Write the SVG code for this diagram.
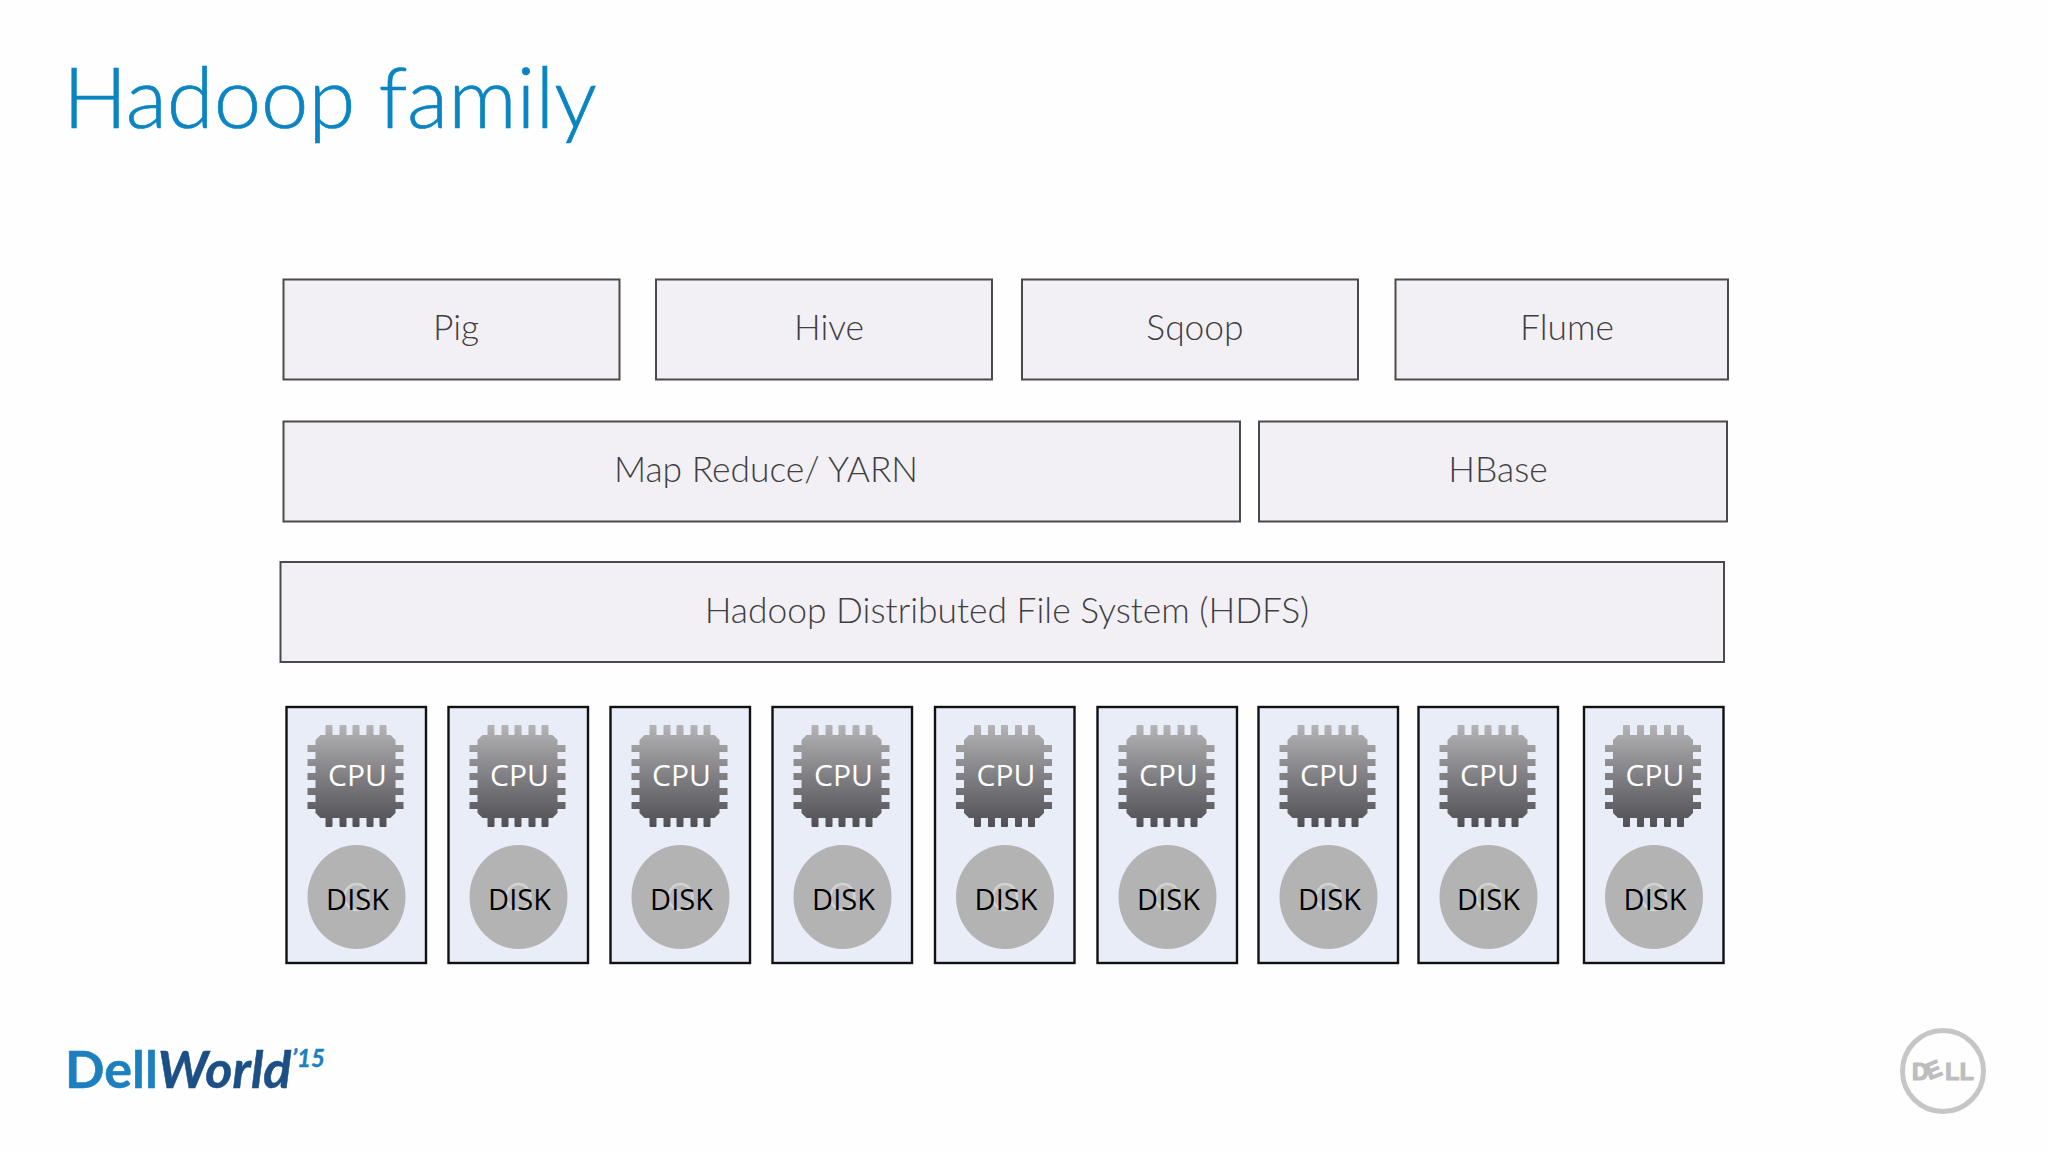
<svg xmlns="http://www.w3.org/2000/svg" width="2048" height="1152" viewBox="0 0 2048 1152">
<style>
.box{fill:#f2f0f4;stroke:#4a4a4d;stroke-width:2}
.lbl{font-family:"Lato","Open Sans","Liberation Sans",sans-serif;font-weight:300;font-size:35.400px;fill:#3f3f44;text-anchor:middle}
.srv{fill:#e9edf7;stroke:#111;stroke-width:2.400}
.cpu{font-family:"Open Sans","Noto Sans","Liberation Sans",sans-serif;font-size:30px;fill:#fff;text-anchor:middle}
.dsk{font-family:"Open Sans","Noto Sans","Liberation Sans",sans-serif;font-size:29px;fill:#000;text-anchor:middle}
</style>
<defs>
<linearGradient id="chipG" gradientUnits="userSpaceOnUse" x1="0" y1="725" x2="0" y2="827">
<stop offset="0" stop-color="#b4b4b6"/><stop offset="0.5" stop-color="#808084"/><stop offset="1" stop-color="#505054"/>
</linearGradient>
<g id="chip" fill="url(#chipG)">
<path d="M34 735H104L109 740V813L104 818H34L29 813V740Z"/>
<rect x="39" y="725" width="7" height="102" rx="1"/>
<rect x="53" y="725" width="7" height="102" rx="1"/>
<rect x="66" y="725" width="7" height="102" rx="1"/>
<rect x="80" y="725" width="7" height="102" rx="1"/>
<rect x="93" y="725" width="7" height="102" rx="1"/>
<rect x="21" y="745" width="96" height="7"/>
<rect x="21" y="759" width="96" height="7"/>
<rect x="21" y="773" width="96" height="7"/>
<rect x="21" y="788" width="96" height="7"/>
<rect x="21" y="802" width="96" height="7"/>
</g>
<g id="disk">
<ellipse cx="70" cy="897" rx="49" ry="52" fill="#b4b3b4"/>
<ellipse cx="70" cy="897" rx="12" ry="13" fill="#b8b8b8" stroke="#d2d2d2" stroke-width="2.500"/>
</g>
</defs>
<rect width="2048" height="1152" fill="#fefefe"/>
<text id="title" x="63" y="128" font-family="Lato,'Open Sans','Liberation Sans',sans-serif" font-weight="300" font-size="85" fill="#0a85c2" stroke="#0a85c2" stroke-width="0.700">Hadoop family</text>

<g id="pig"><rect class="box" x="283.500" y="279.500" width="336" height="100"/><text class="lbl" x="456" y="340">Pig</text></g>
<g id="hive"><rect class="box" x="656" y="279.500" width="336" height="100"/><text class="lbl" x="829" y="340">Hive</text></g>
<g id="sqoop"><rect class="box" x="1022" y="279.500" width="336" height="100"/><text class="lbl" x="1195" y="340">Sqoop</text></g>
<g id="flume"><rect class="box" x="1395.500" y="279.500" width="332.500" height="100"/><text class="lbl" x="1567" y="340">Flume</text></g>
<g id="mapreduce"><rect class="box" x="283.500" y="421.500" width="956.500" height="100"/><text class="lbl" x="766" y="482">Map Reduce/ YARN</text></g>
<g id="hbase"><rect class="box" x="1259" y="421.500" width="468" height="100"/><text class="lbl" x="1498" y="482">HBase</text></g>
<g id="hdfs"><rect class="box" x="280.500" y="562" width="1443.500" height="100"/><text class="lbl" x="1007" y="623">Hadoop Distributed File System (HDFS)</text></g>

<g id="node1" transform="translate(286.500,0)"><rect class="srv" y="707" width="139.500" height="256"/><use href="#chip"/><use href="#disk"/><text class="cpu" x="71" y="786">CPU</text><text class="dsk" x="71" y="910">DISK</text></g>
<g id="node2" transform="translate(448.500,0)"><rect class="srv" y="707" width="139.500" height="256"/><use href="#chip"/><use href="#disk"/><text class="cpu" x="71" y="786">CPU</text><text class="dsk" x="71" y="910">DISK</text></g>
<g id="node3" transform="translate(610.500,0)"><rect class="srv" y="707" width="139.500" height="256"/><use href="#chip"/><use href="#disk"/><text class="cpu" x="71" y="786">CPU</text><text class="dsk" x="71" y="910">DISK</text></g>
<g id="node4" transform="translate(772.500,0)"><rect class="srv" y="707" width="139.500" height="256"/><use href="#chip"/><use href="#disk"/><text class="cpu" x="71" y="786">CPU</text><text class="dsk" x="71" y="910">DISK</text></g>
<g id="node5" transform="translate(935,0)"><rect class="srv" y="707" width="139.500" height="256"/><use href="#chip"/><use href="#disk"/><text class="cpu" x="71" y="786">CPU</text><text class="dsk" x="71" y="910">DISK</text></g>
<g id="node6" transform="translate(1097.500,0)"><rect class="srv" y="707" width="139.500" height="256"/><use href="#chip"/><use href="#disk"/><text class="cpu" x="71" y="786">CPU</text><text class="dsk" x="71" y="910">DISK</text></g>
<g id="node7" transform="translate(1258.500,0)"><rect class="srv" y="707" width="139.500" height="256"/><use href="#chip"/><use href="#disk"/><text class="cpu" x="71" y="786">CPU</text><text class="dsk" x="71" y="910">DISK</text></g>
<g id="node8" transform="translate(1418.500,0)"><rect class="srv" y="707" width="139.500" height="256"/><use href="#chip"/><use href="#disk"/><text class="cpu" x="71" y="786">CPU</text><text class="dsk" x="70" y="910">DISK</text></g>
<g id="node9" transform="translate(1584,0)"><rect class="srv" y="707" width="139.500" height="256"/><use href="#chip"/><use href="#disk"/><text class="cpu" x="71" y="786">CPU</text><text class="dsk" x="71" y="910">DISK</text></g>

<g id="dellworld" font-family="Lato,'Open Sans','Liberation Sans',sans-serif" font-weight="700">
<text x="65" y="1088" font-size="52" fill="#1b7fc0" stroke="#1b7fc0" stroke-width="0.500">Dell<tspan fill="#1b4f85" stroke="#1b4f85" font-style="italic">World</tspan></text>
<text x="292" y="1067" font-size="24" font-style="italic" fill="#1b7fc0" stroke="#1b7fc0" stroke-width="0.400">’15</text>
</g>
<g id="dell-logo">
<circle cx="1943" cy="1071" r="40.500" fill="none" stroke="#c6c6c6" stroke-width="5"/>
<text x="1912" y="1080" font-family="'Liberation Sans',sans-serif" font-weight="700" font-size="23" letter-spacing="0.600" fill="#bdbdbd" stroke="#bdbdbd" stroke-width="1.200" rotate="0 -22 0 0">DELL</text>
</g>
</svg>
